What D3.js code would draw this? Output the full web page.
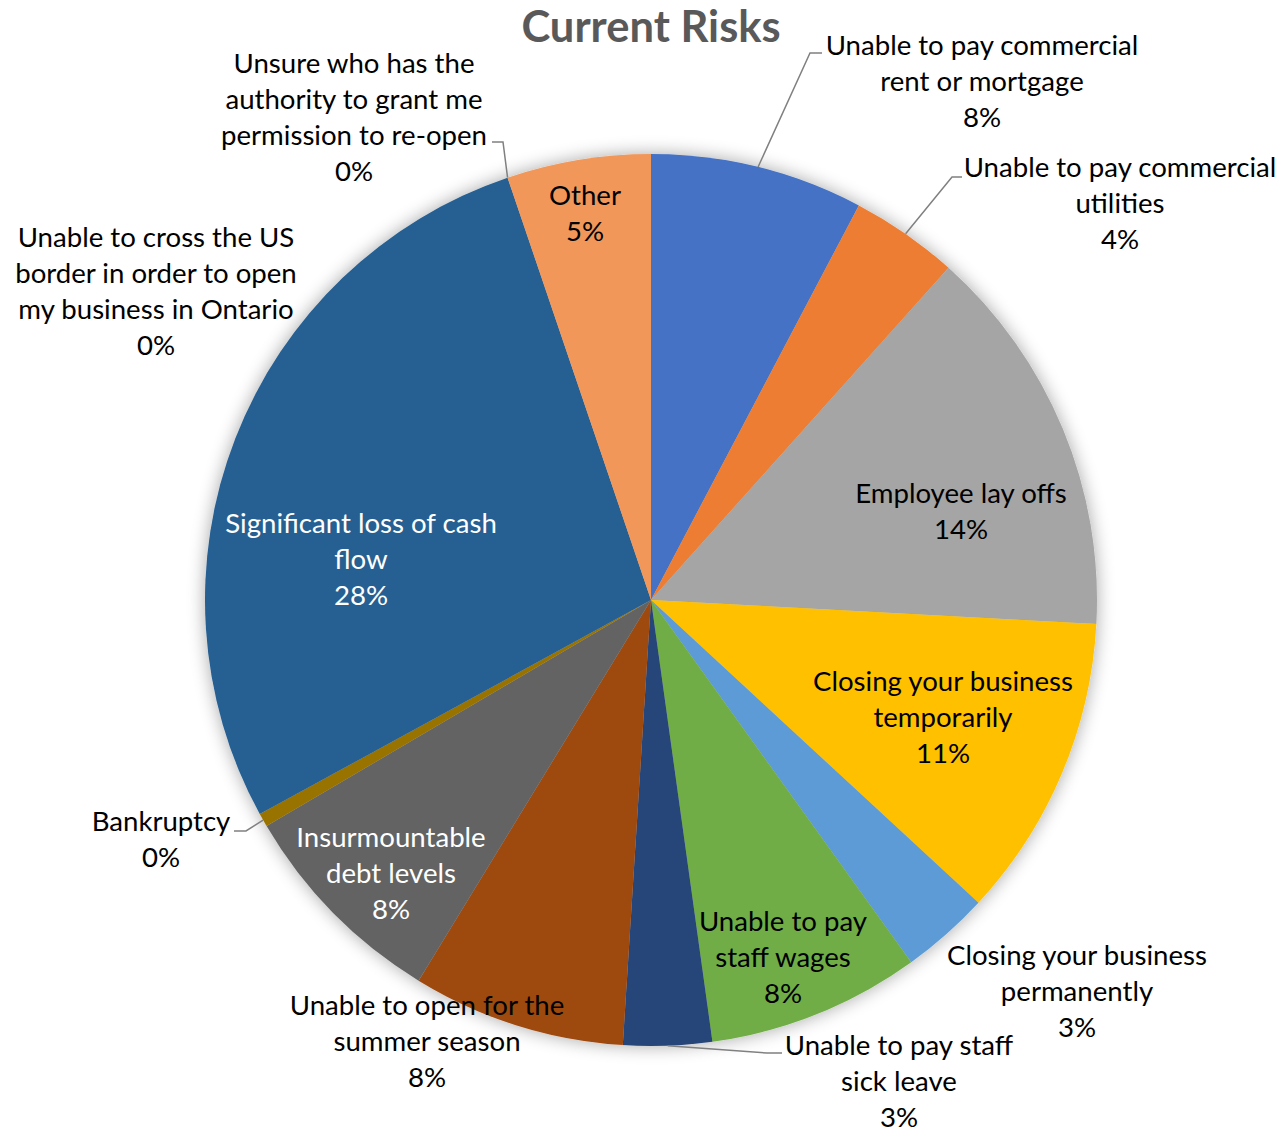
<!DOCTYPE html>
<html><head><meta charset="utf-8">
<script src="https://cdn.jsdelivr.net/npm/d3@7"></script>
<style>body{margin:0;background:#fff}</style>
</head><body>
<svg id="chart" width="1279" height="1129"></svg>
<script>
// ---- data ----
const title = "Current Risks";
const categories = [
  "Unable to pay commercial\nrent or mortgage",
  "Unable to pay commercial\nutilities",
  "Employee lay offs",
  "Closing your business\ntemporarily",
  "Closing your business\npermanently",
  "Unable to pay\nstaff wages",
  "Unable to pay staff\nsick leave",
  "Unable to open for the\nsummer season",
  "Insurmountable\ndebt levels",
  "Bankruptcy",
  "Significant loss of cash\nflow",
  "Unable to cross the US\nborder in order to open\nmy business in Ontario",
  "Unsure who has the\nauthority to grant me\npermission to re-open",
  "Other"
];
const values = [7.7, 3.9, 14.2, 11.0, 3.2, 7.7, 3.2, 7.7, 7.8, 0.49, 27.7, 0, 0, 5.2];
const colors = ["#4472C4","#ED7D31","#A5A5A5","#FFC000","#5B9BD5","#70AD47","#264478",
                "#9E480E","#636363","#997300","#255E91","#43682B","#698ED0","#F1975A"];
const labelColors = ["#000","#000","#000","#000","#000","#000","#000",
                     "#000","#fff","#000","#fff","#000","#000","#000"];

// ---- layout (label block centers and leader elbows, relative to pie centre) ----
const layout = [
  {dx: 331, dy: -518, leader: [[159,-547],[171,-547]]},
  {dx: 469, dy: -396, leader: [[301,-423],[311,-423]]},
  {dx: 310, dy: -88},
  {dx: 292, dy: 118},
  {dx: 426, dy: 392},
  {dx: 132, dy: 358},
  {dx: 248, dy: 482, leader: [[116,453],[131,453]]},
  {dx: -224, dy: 442},
  {dx: -260, dy: 274},
  {dx: -490, dy: 240, leader: [[-405,231],[-417,231]]},
  {dx: -290, dy: -40},
  {dx: -495, dy: -308},
  {dx: -297, dy: -482, leader: [[-148,-458],[-159,-458]]},
  {dx: -66, dy: -386}
];

const W = 1279, H = 1129;
const cx = 651, cy = 600, R = 446;
const font = "Lato, 'Open Sans', sans-serif";
const fontSize = 27.6, lineH = 36;

const svg = d3.select("#chart");
const defs = svg.append("defs");
const f = defs.append("filter").attr("id","glow")
  .attr("x","-20%").attr("y","-20%").attr("width","140%").attr("height","140%");
f.append("feGaussianBlur").attr("in","SourceAlpha").attr("stdDeviation",9).attr("result","b");
f.append("feComponentTransfer").attr("in","b").attr("result","s")
  .append("feFuncA").attr("type","linear").attr("slope",0.35);
const m = f.append("feMerge");
m.append("feMergeNode").attr("in","s");
m.append("feMergeNode").attr("in","SourceGraphic");

svg.append("text")
  .attr("x", cx).attr("y", 27).attr("dy","0.35em")
  .attr("text-anchor","middle")
  .attr("font-family", font).attr("font-weight","bold").attr("font-size", 43.5)
  .attr("fill","#595959").text(title);

const data = categories.map((c,i)=>({cat:c, value:values[i], i}));
const pie = d3.pie().sort(null).value(d=>d.value);
const arcs = pie(data);
const arc = d3.arc().innerRadius(0).outerRadius(R);

const g = svg.append("g").attr("transform",`translate(${cx},${cy})`);
g.append("g").attr("filter","url(#glow)")
  .selectAll("path").data(arcs).join("path")
  .attr("d", arc)
  .attr("fill", d=>colors[d.data.i]);

// leader lines
const leaders = g.append("g");
arcs.forEach(a=>{
  const L = layout[a.data.i].leader;
  if(!L) return;
  const mid = (a.startAngle + a.endAngle)/2;
  const p0 = [R*Math.sin(mid), -R*Math.cos(mid)];
  leaders.append("path")
    .attr("d", d3.line()([p0, ...L]))
    .attr("fill","none").attr("stroke","#808080").attr("stroke-width",1.5);
});

// labels
const fmt = v => Math.round(v) + "%";
arcs.forEach(a=>{
  const i = a.data.i;
  const lines = a.data.cat.split("\n").concat([fmt(a.data.value)]);
  const n = lines.length;
  const t = g.append("text")
    .attr("text-anchor","middle")
    .attr("font-family", font).attr("font-size", fontSize)
    .attr("fill", labelColors[i]);
  lines.forEach((ln,k)=>{
    t.append("tspan")
      .attr("x", layout[i].dx)
      .attr("y", layout[i].dy + (k-(n-1)/2)*lineH)
      .attr("dy","0.33em")
      .text(ln);
  });
});
</script>
</body></html>
